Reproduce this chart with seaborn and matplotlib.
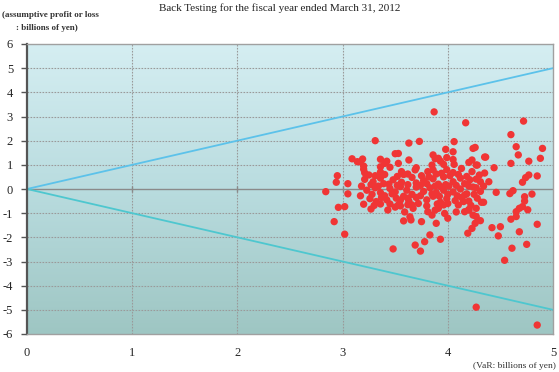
import numpy as np
import pandas as pd
import matplotlib
matplotlib.use("Agg")
import matplotlib.pyplot as plt
import seaborn as sns
from matplotlib.colors import LinearSegmentedColormap

title = "Back Testing for the fiscal year ended March 31, 2012"
ylabel_lines = ["(assumptive profit or loss", ": billions of yen)"]
xlabel = "(VaR: billions of yen)"
x_ticks = [0, 1, 2, 3, 4, 5]
y_ticks = [-6, -5, -4, -3, -2, -1, 0, 1, 2, 3, 4, 5, 6]

var_values = [
    3.87, 4.17, 4.72, 4.60, 4.65, 4.67, 4.90, 4.88, 4.77, 4.60,
    3.31, 3.63, 3.73, 4.06, 4.26, 3.98, 3.09, 3.14, 3.19, 3.20,
    3.21, 3.31, 3.36, 3.36, 3.40, 3.50, 2.95, 2.94, 3.05, 2.84,
    3.05, 2.96, 3.02, 2.92, 3.02, 3.48, 3.20, 3.27, 3.36, 3.43,
    3.55, 3.62, 3.66, 3.53, 3.58, 3.64, 3.65, 3.75, 3.81, 3.85,
    3.88, 3.91, 3.89, 4.00, 3.96, 3.97, 3.83, 3.93, 3.78, 3.69,
    3.74, 4.19, 4.23, 4.24, 4.16, 4.20, 4.10, 4.15, 4.26, 4.31,
    4.27,
    4.34, 4.46, 4.59, 4.62, 4.73, 4.73, 4.80, 4.27, 4.32, 4.34,
    4.65, 4.68, 4.71, 4.76, 4.60, 4.65, 4.85, 4.42, 4.50, 4.48,
    4.68, 4.61, 4.75, 4.54, 4.27, 4.85,
    4.36, 4.27, 4.44, 4.35, 4.27, 4.39, 4.27, 4.85, 4.77, 4.74, 4.71,
    3.17, 3.42, 3.53, 3.63, 3.88, 3.93, 3.99, 4.05, 4.20, 4.28, 4.35,
    3.86, 3.91, 4.05, 3.96, 4.06, 3.53, 3.85, 3.86, 3.69, 3.81, 3.56, 4.24, 4.23,
    3.20, 3.36, 3.45, 3.58, 3.70, 3.89, 3.99, 4.05, 4.13, 4.23,
    3.21, 3.29, 3.36, 3.39, 3.48, 3.56, 3.66, 3.70, 3.77, 3.86, 3.91, 3.96,
    4.05, 4.12, 4.16, 4.21, 4.31,
    3.23, 3.31, 3.36, 3.45, 3.50, 3.55, 3.61, 3.70, 3.77, 3.83, 3.89, 3.93,
    3.96, 4.01, 4.05, 4.12, 4.18, 4.24, 4.31,
    3.26, 3.32, 3.37, 3.42, 3.51, 3.63, 3.70, 3.80, 3.86, 3.93, 3.99, 4.07,
    4.13, 4.20, 4.28,
    3.50, 3.59, 3.67, 4.08, 4.20,
    3.25, 3.40, 3.52, 3.62, 3.75, 3.82, 3.94, 4.02, 4.10, 4.18, 4.30,
    3.18, 3.27, 3.34, 3.44, 3.52, 3.62, 3.74, 3.80, 3.88, 3.98, 4.08, 4.20,
    3.17, 3.28, 3.40, 3.47, 3.58, 3.66, 3.74, 3.85, 3.92, 4.00, 4.09, 4.16, 4.25,
    3.30, 3.45, 3.55, 3.62, 3.72, 3.80, 3.90, 4.00, 4.22,
]

pl_values = [
    3.19, 2.74, 2.81, 2.25, 1.75, 1.41, 1.68, 1.27, 1.15, 1.06,
    2.00, 1.90, 1.97, 1.96, 1.72, 1.64, 1.25, 1.13, 1.24, 0.95,
    0.67, 0.55, 1.23, 0.92, 1.06, 1.46, 0.55, 0.28, 0.22, -0.11,
    -0.20, -0.76, -0.73, -1.35, -1.87, -2.48, -0.63, -0.83, -0.62, -0.87,
    -0.46, -0.38, -0.66, -0.66, -1.32, -1.15, -1.28, -1.35, -0.94, -1.08,
    -0.87, -0.80, -1.42, -1.21, -0.66, -1.01, -1.90, -2.08, -2.18, -2.32,
    -2.57, -1.83, -1.63, -1.08, -0.94, -0.87, -0.66, -0.52, -1.42, -1.31,
    -1.14,
    0.12, -0.14, -0.19, -0.07, -0.32, -0.50, -0.21, -0.80, -0.55, -0.55,
    -0.94, -0.80, -0.73, -0.86, -1.25, -1.14, -1.46, -1.60, -1.56, -1.94,
    -1.77, -2.45, -2.29, -2.95, -4.89, -5.63,
    1.32, 0.99, 0.88, 0.66, 0.41, 0.30, 0.05, 0.54, 0.58, 0.47, 0.28,
    1.12, 1.15, 1.06, 1.20, 1.25, 1.15, 1.30, 1.22, 1.10, 0.99, 1.32,
    1.41, 1.27, 1.54, 1.02, 1.02, 1.47, 0.99, 0.79, 0.79, 0.72, 0.72, 1.68, 1.20,
    0.82, 0.70, 0.90, 0.60, 0.88, 0.62, 0.80, 0.68, 0.85, 0.72,
    0.40, 0.30, 0.45, 0.22, 0.38, 0.28, 0.48, 0.25, 0.35, 0.42, 0.20, 0.50,
    0.30, 0.45, 0.22, 0.38, 0.30,
    -0.05, 0.05, -0.15, 0.02, -0.12, 0.10, -0.05, 0.08, -0.10, 0.05, -0.15, 0.10,
    -0.05, 0.12, -0.12, 0.00, -0.20, 0.08, -0.10,
    -0.40, -0.52, -0.35, -0.45, -0.38, -0.50, -0.35, -0.45, -0.30, -0.55, -0.40, -0.48,
    -0.35, -0.50, -0.38,
    -0.75, -0.95, -0.80, -0.95, -0.85,
    0.58, 0.60, 0.52, 0.62, 0.55, 0.50, 0.65, 0.55, 0.60, 0.52, 0.58,
    0.12, 0.18, 0.12, 0.20, 0.15, 0.18, 0.15, 0.22, 0.12, 0.18, 0.15, 0.12,
    -0.28, -0.22, -0.28, -0.20, -0.30, -0.22, -0.28, -0.20, -0.30, -0.22, -0.28, -0.25, -0.22,
    -0.68, -0.62, -0.70, -0.65, -0.60, -0.70, -0.62, -0.60, -0.68,
]

df = pd.DataFrame({"VaR": var_values, "PL": pl_values})

sns.set_style("white")
plt.rcParams["font.family"] = ["Liberation Serif", "DejaVu Serif"]
plt.rcParams["axes.unicode_minus"] = False

fig = plt.figure(figsize=(5.59, 3.72), dpi=100)
ax = fig.add_axes([27 / 559, 1 - 334 / 372, 526 / 559, 290 / 372])

# background gradient
cmap = LinearSegmentedColormap.from_list("bg", ["#d5eef2", "#b9dcdf", "#9ec6c3"])
grad = np.linspace(0, 1, 256).reshape(-1, 1)
ax.imshow(grad, extent=[x_ticks[0], x_ticks[-1], y_ticks[0], y_ticks[-1]],
          aspect="auto", cmap=cmap, origin="upper", zorder=0)

ax.set_xlim(x_ticks[0], x_ticks[-1])
ax.set_ylim(y_ticks[0], y_ticks[-1])
ax.set_xticks(x_ticks)
ax.set_yticks(y_ticks)

# grid
for xv in x_ticks[1:-1]:
    ax.axvline(xv, color="#9a9a9a", lw=0.8, ls=(0, (1.5, 1.2)), zorder=1)
for yv in y_ticks[1:-1]:
    if yv == 0:
        ax.axhline(yv, color="#8a8a8a", lw=1.0, zorder=1)
    else:
        ax.axhline(yv, color="#9a9a9a", lw=0.8, ls=(0, (1.5, 1.2)), zorder=1)
ax.plot(x_ticks[1:-1], [0] * (len(x_ticks) - 2), ls="none", marker="|",
        ms=5, color="#8a8a8a", mew=1.0, zorder=1)

# reference lines
ax.plot([x_ticks[0], x_ticks[-1]], [0, x_ticks[-1]], color="#5cc2ea", lw=1.3, zorder=2)
ax.plot([x_ticks[0], x_ticks[-1]], [0, -x_ticks[-1]], color="#4ec7cf", lw=1.3, zorder=2)

sns.scatterplot(data=df, x="VaR", y="PL", ax=ax, color="#f03535", s=28,
                edgecolor="none", linewidth=0, zorder=3, legend=False)

ax.set_xlabel("")
ax.set_ylabel("")
for side in ["top", "right", "bottom"]:
    ax.spines[side].set_color("#a0a0a0")
    ax.spines[side].set_linewidth(1.0)
ax.spines["left"].set_color("#555555")
ax.spines["left"].set_linewidth(1.6)

ax.tick_params(axis="y", direction="out", length=4, width=1, color="#555555",
               labelsize=9, pad=6, left=True)
ax.tick_params(axis="x", length=0, labelsize=9, pad=9)

fig.text(0.5, 1 - 8 / 372, title, ha="center", va="center", fontsize=8, color="#222222")
fig.text(2 / 559, 1 - 15 / 372, ylabel_lines[0], ha="left", va="center",
         fontsize=6.5, fontweight="bold", color="#333333")
fig.text(16 / 559, 1 - 28 / 372, ylabel_lines[1], ha="left", va="center",
         fontsize=6.5, fontweight="bold", color="#333333")
fig.text(556 / 559, 1 - 366 / 372, xlabel, ha="right", va="center",
         fontsize=6.8, color="#333333")

fig.savefig("out.png", dpi=100)
